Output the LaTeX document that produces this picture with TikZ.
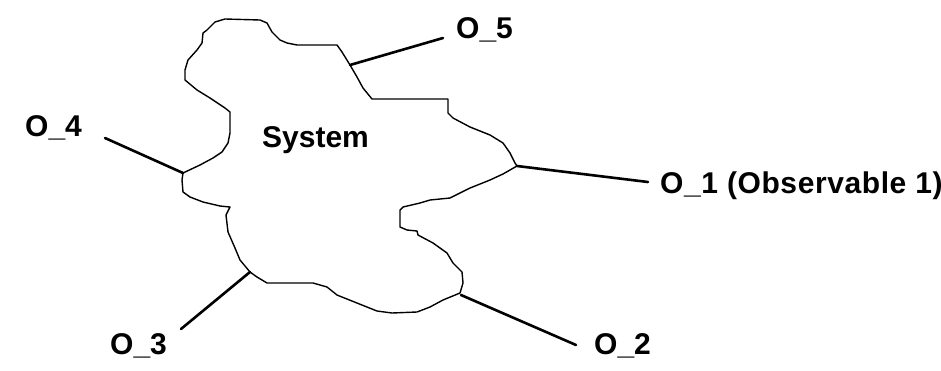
\documentclass[tikz,border=0pt]{standalone}
\usepackage{fontspec}
\setmainfont{Liberation Sans}
\begin{document}
\begin{tikzpicture}[x=1pt,y=-1pt,
  outline/.style={draw=black, line width=1.4pt, line join=round},
  wire/.style={draw=black, line width=2.6pt, line cap=round},
  obslabel/.style={anchor=base west, inner sep=0pt, font=\fontsize{30}{36}\selectfont\bfseries},
  syslabel/.style={anchor=base west, inner sep=0pt, font=\fontsize{30}{36}\selectfont\bfseries}]
\useasboundingbox (0,0) rectangle (941,370);

% freehand outline of the system
\draw[outline]
  (185,70) -- (188,60) -- (197,50) -- (202,43) -- (203,33) -- (207,30) -- (215,22)
  -- (225,19) -- (260,20) -- (267,23) -- (272,32) -- (280,40) -- (287,43) -- (297,45)
  -- (337,45) -- (342,52) -- (350,65) -- (357,77) -- (363,88) -- (372,99) -- (448,99)
  -- (448,113) -- (453,118) -- (470,127) -- (490,135) -- (503,143) -- (510,153)
  -- (515,163) -- (517,166) -- (503,174) -- (490,180) -- (470,188) -- (450,198)
  -- (430,200) -- (420,203) -- (403,207) -- (400,210) -- (400,227) -- (407,230)
  -- (417,231) -- (418,235) -- (433,243) -- (447,253) -- (453,263) -- (462,272)
  -- (463,283) -- (460,293) -- (443,300) -- (430,307) -- (417,312) -- (392,313)
  -- (377,311) -- (357,303) -- (337,295) -- (327,287) -- (313,283) -- (267,283)
  -- (257,277) -- (250,272) -- (240,260) -- (235,248) -- (228,232) -- (226,215)
  -- (230,207) -- (220,206) -- (203,202) -- (190,197) -- (183,192) -- (182,180)
  -- (183,173) -- (200,165) -- (213,158) -- (222,152) -- (228,143) -- (230,133)
  -- (230,112) -- (225,108) -- (210,98) -- (197,90) -- (185,80) -- cycle;

% junctions on the outline
\coordinate (j1) at (517,166);
\coordinate (j2) at (461,295);
\coordinate (j3) at (250,272);
\coordinate (j4) at (183,173);
\coordinate (j5) at (350,65);

% outer ends of the wires
\coordinate (e1) at (648,182);
\coordinate (e2) at (576,345);
\coordinate (e3) at (181,329);
\coordinate (e4) at (105,138);
\coordinate (e5) at (443,38);

\node[syslabel] (sys) at (262,147) {System};
\node[obslabel] (o1) at (660,193) {\addfontfeatures{LetterSpace=2}O\_1 (Observable 1)};
\node[obslabel] (o2) at (594,354) {O\_2};
\node[obslabel] (o3) at (110,354) {O\_3};
\node[obslabel] (o4) at (25,136) {O\_4};
\node[obslabel] (o5) at (456,38) {O\_5};

\draw[wire] (j1) -- (e1);
\draw[wire] (j2) -- (e2);
\draw[wire] (j3) -- (e3);
\draw[wire] (j4) -- (e4);
\draw[wire] (j5) -- (e5);
\end{tikzpicture}
\end{document}
